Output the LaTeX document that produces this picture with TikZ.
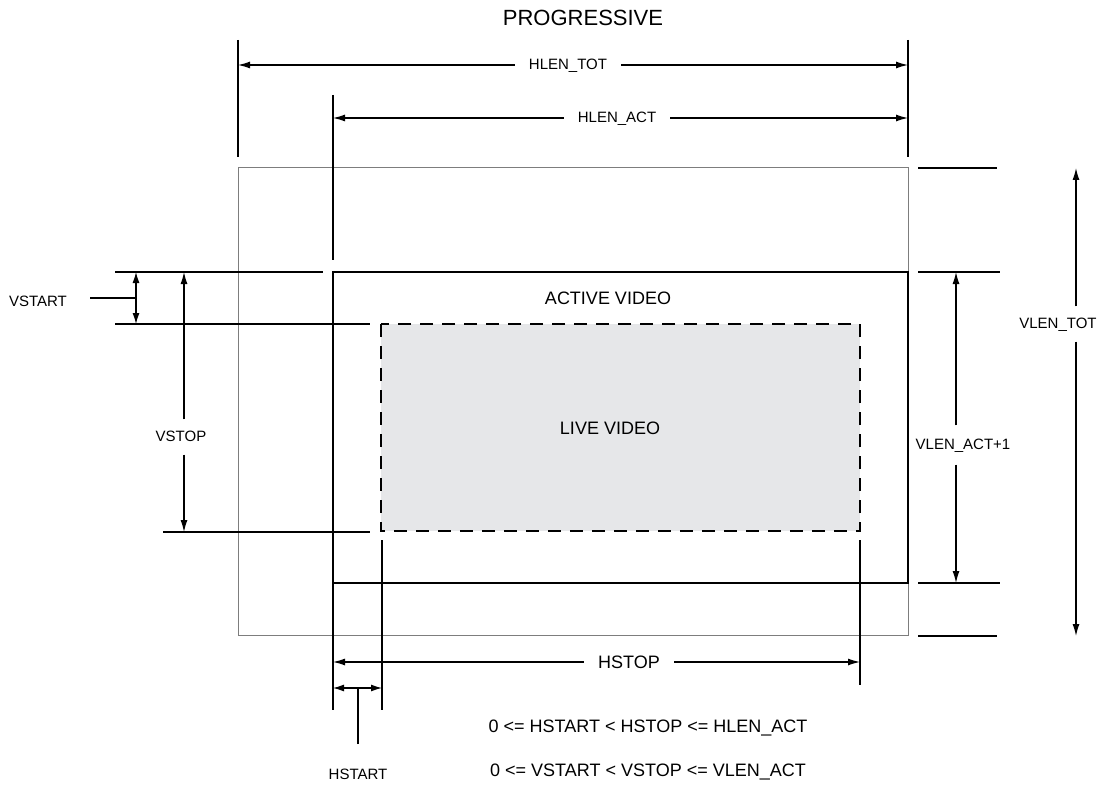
\documentclass[tikz,border=0pt]{standalone}
\usepackage{fontspec}
\setmainfont{Liberation Sans}
\usetikzlibrary{arrows.meta}
\definecolor{livegray}{RGB}{230,231,233}
\definecolor{framegray}{RGB}{125,125,125}
\begin{document}
\begin{tikzpicture}[x=1pt,y=-1pt,
		dimline/.style={line width=1.2pt,-{Latex[length=12pt,width=7pt]}},
		dimboth/.style={line width=1.2pt,{Latex[length=11pt,width=7pt]}-{Latex[length=11pt,width=7pt]}},
		extline/.style={line width=1.2pt},
		heavyline/.style={line width=2pt},
		small/.style={font=\fontsize{15}{18}\selectfont,text height=11pt,text depth=2pt},
		big/.style={font=\fontsize{18}{21}\selectfont,inner sep=0pt},
		hgap/.style={inner xsep=14pt,inner ysep=0pt},
		vgap/.style={inner xsep=0pt,inner ysep=11pt}]
		 \useasboundingbox (0,0) rectangle (1102,786);
		 \draw [framegray,line width=1pt] (238,168) rectangle (908,635);
		 \draw [fill=livegray,dash pattern=on 13pt off 9pt,line width=2.5pt] (381,324) rectangle (860,531);
		 \draw [heavyline] (333,272) rectangle (908,583);
		 \node [font=\fontsize{22}{26}\selectfont,inner sep=0pt] (title) at (583,18) {PROGRESSIVE};
		 \node [big] (active) at (608,298) {ACTIVE VIDEO};
		 \node [big] (live) at (610,428) {LIVE VIDEO};
		 % top dimensions
		 \draw [heavyline] (238,40) -- (238,157);
		 \draw [heavyline] (908,40) -- (908,157);
		 \draw [extline] (333,95) -- (333,260);
		 \coordinate (totL) at (238,65);
		 \coordinate (totR) at (908,65);
		 \coordinate (actL) at (333,118);
		 \coordinate (actR) at (908,118);
		 \node [small,hgap] (hltot) at (568,65) {HLEN\_TOT};
		 \draw [dimline] (hltot.west) -- (totL);
		 \draw [dimline] (hltot.east) -- (totR);
		 \node [small,hgap] (hlact) at (617,118) {HLEN\_ACT};
		 \draw [dimline] (hlact.west) -- (actL);
		 \draw [dimline] (hlact.east) -- (actR);
		 % left dimensions
		 \draw [extline] (115,272) -- (323,272);
		 \draw [extline] (115,324) -- (370,324);
		 \draw [heavyline] (163,532) -- (370,532);
		 \coordinate (vsA) at (136,272);
		 \coordinate (vsB) at (136,324);
		 \coordinate (vsLead) at (90,298);
		 \draw [dimboth] (vsA) -- (vsB);
		 \node [small,inner sep=0pt] (vstart) at (38,302) {VSTART};
		 \draw [extline] (vsLead) -- (vsLead -| vsA);
		 \coordinate (vpA) at (184,272);
		 \coordinate (vpB) at (184,532);
		 \node [small,vgap] (vstop) at (181,437) {VSTOP};
		 \draw [dimline] (vstop.north -| vpA) -- (vpA);
		 \draw [dimline] (vstop.south -| vpB) -- (vpB);
		 % right dimensions
		 \draw [heavyline] (918,168) -- (997,168);
		 \draw [heavyline] (918,636) -- (997,636);
		 \draw [extline] (918,272) -- (1000,272);
		 \draw [heavyline] (918,583) -- (1000,583);
		 \coordinate (vaA) at (956,272);
		 \coordinate (vaB) at (956,583);
		 \node [small,vgap,inner ysep=13pt] (vlact) at (963,445) {VLEN\_ACT+1};
		 \draw [dimline] (vlact.north -| vaA) -- (vaA);
		 \draw [dimline] (vlact.south -| vaB) -- (vaB);
		 \coordinate (vtA) at (1076,168);
		 \coordinate (vtB) at (1076,636);
		 \node [small,vgap] (vltot) at (1058,324) {VLEN\_TOT};
		 \draw [dimline] (vltot.north -| vtA) -- (vtA);
		 \draw [dimline] (vltot.south -| vtB) -- (vtB);
		 % bottom dimensions
		 \draw [heavyline] (333,583) -- (333,710);
		 \draw [extline] (382,540) -- (382,710);
		 \draw [extline] (860,540) -- (860,685);
		 \coordinate (hsL) at (333,662);
		 \coordinate (hsR) at (860,662);
		 \node [big,hgap] (hstop) at (629,662) {HSTOP};
		 \draw [dimline] (hstop.west) -- (hsL);
		 \draw [dimline] (hstop.east) -- (hsR);
		 \coordinate (hbL) at (333,688);
		 \coordinate (hbR) at (382,688);
		 \coordinate (hbLead) at (358,744);
		 \draw [dimboth] (hbL) -- (hbR);
		 \draw [extline] (hbLead) -- (hbLead |- hbL);
		 \node [small,inner sep=0pt] (hstart) at (358,775) {HSTART};
		 \node [big] (hrule) at (648,728) {0 <= HSTART < HSTOP <= HLEN\_ACT};
		 \node [big] (vrule) at (648,772) {0 <= VSTART < VSTOP <= VLEN\_ACT};
	 \end{tikzpicture}
\end{document}
